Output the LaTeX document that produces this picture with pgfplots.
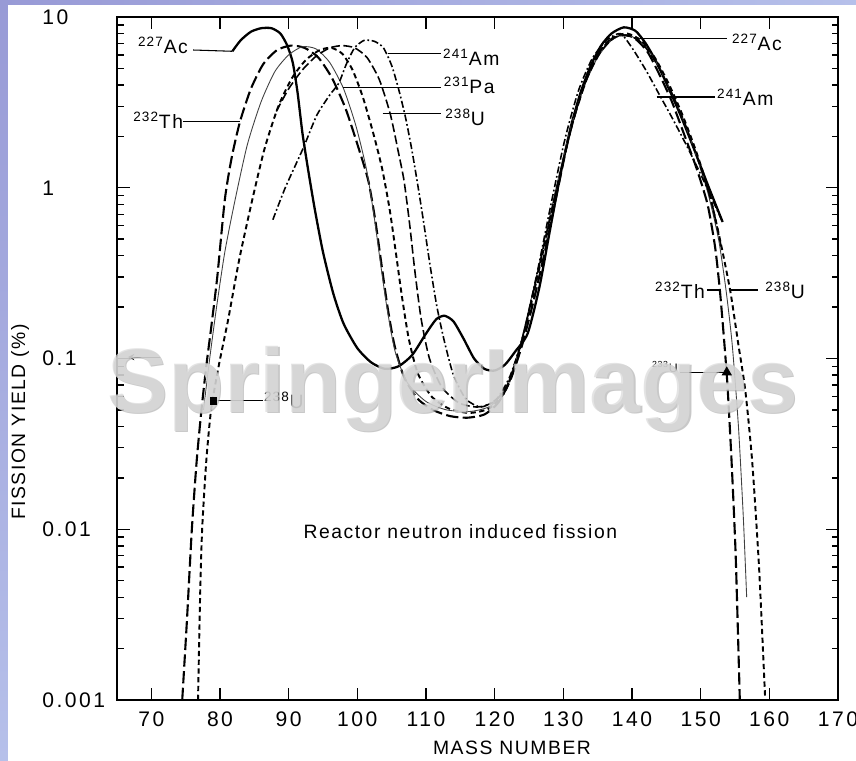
\documentclass[border=0pt]{standalone}
\usepackage{fontspec}
\setmainfont{Liberation Sans}
\newfontfamily\tkfont{Liberation Sans}[LetterSpace=12]
\newfontfamily\lbfont{Liberation Sans}[LetterSpace=8]
\usepackage{pgfplots}
\pgfplotsset{compat=1.18}
\definecolor{lavA}{RGB}{152,154,214}
\definecolor{lavB}{RGB}{182,192,234}
\newcommand{\lb}{\lbfont\fontsize{11}{13}\selectfont}
\newcommand{\sm}{\lbfont\fontsize{7}{8}\selectfont}
\begin{document}
\begin{tikzpicture}
\useasboundingbox (-2.34,-1.2) rectangle (14.78,14.0);
\fill[white] (-2.34,-1.2) rectangle (14.78,14.0);
\shade[top color=lavA, bottom color=lavB] (-2.34,-1.2) rectangle (-2.18,14.0);
\shade[left color=lavA, right color=lavB] (-2.34,13.9) rectangle (14.78,14.0);
\begin{axis}[
  at={(0,0)}, anchor=south west, scale only axis,
  width=14.42cm, height=13.66cm,
  xmin=65, xmax=170, ymin=0.001, ymax=10, ymode=log,
  xtick={70,80,...,170},
  ytick={0.001,0.01,0.1,1,10},
  yticklabels={0.001,0.01,0.1,1,10},
  tick align=inside,
  major tick length=0.25cm, minor tick length=0.13cm,
  axis line style={line width=1.4pt},
  every tick/.append style={black, line width=0.8pt},
  tick label style={font=\tkfont\fontsize{12}{14}\selectfont},
  /pgf/number format/assume math mode=true,
  yticklabel style={anchor=west, xshift=-1.5cm, inner sep=0pt},
  xticklabel style={yshift=-0.12cm},
  clip=false,
]
% 227Ac
\addplot[black, line width=1.3pt, smooth, tension=0.4] coordinates {
(81.8,6.3) (83,7.3) (84.5,8.2) (86,8.6) (87.5,8.6) (88.8,8.0) (89.8,6.8) (90.6,5.4)
(91.3,3.6) (92.0,2.1) (92.8,1.3) (93.8,0.75) (95,0.42) (96.5,0.24) (98,0.16) (100,0.115)
(102,0.095) (104,0.087) (106,0.09) (108,0.105) (110,0.14) (111.5,0.17) (112.7,0.178)
(114,0.165) (115.5,0.13) (117,0.1) (118.5,0.087) (120,0.085) (121.5,0.092) (123,0.11)
(124.8,0.14) (126.5,0.26) (128,0.55) (129.5,1.15) (131,2.2) (132.5,3.6) (134,5.2)
(135.5,6.8) (137,8.0) (138.8,8.7) (140.5,8.3) (142,7.0) (143.5,5.5) (145,4.1) (147,2.7)
(149,1.7) (151,1.05) (153.2,0.63)};
% 232Th
\addplot[black, line width=1.2pt, dash pattern=on 7pt off 2.5pt, smooth, tension=0.4] coordinates {
(74.5,0.001) (75.2,0.003) (75.9,0.01) (76.6,0.025) (77.3,0.05) (78.0,0.09) (78.7,0.15)
(79.6,0.3) (80.7,0.85) (81.7,1.5) (82.9,2.43) (84.5,3.8) (86.3,5.3) (88.3,6.4) (90.3,6.8)
(92.3,6.6) (94.3,5.8) (96.3,4.4) (98.3,2.9) (100.2,1.7) (101.6,1.1) (102.6,0.65)
(103.5,0.36) (104.4,0.2) (105.4,0.12) (106.8,0.078) (108.8,0.058) (111,0.05) (113.5,0.046)
(116,0.045) (118.5,0.047) (120.5,0.055) (122.3,0.075) (124,0.12) (125.7,0.22) (127.3,0.42)
(129,0.9) (130.7,1.9) (132.5,3.5) (134.3,5.4) (136.2,7.0) (138.2,7.8) (140.2,7.6)
(142.2,6.3) (144,4.6) (145.8,3.2) (147.6,2.05) (149.4,1.3) (151,0.8) (152.1,0.45)
(152.8,0.25) (153.4,0.13) (153.9,0.07) (154.5,0.025) (155.1,0.007) (155.7,0.001)};
% thin solid
\addplot[black!75, line width=0.5pt, smooth, tension=0.4] coordinates {
(77.6,0.05) (78.5,0.1) (79.5,0.2) (80.7,0.42) (82.2,0.85) (84,1.8) (86,3.2) (88,4.8)
(90,6.0) (92,6.7) (94,6.5) (96,5.4) (98,3.8) (99.8,2.3) (101.3,1.3) (102.4,0.7)
(103.3,0.38) (104.3,0.2) (105.5,0.11) (107.3,0.072) (110,0.056) (113,0.05) (116.5,0.049)
(119.5,0.053) (121.8,0.07) (123.7,0.12) (125.5,0.24) (127.3,0.5) (129.2,1.1) (131,2.2)
(133,3.9) (135,5.8) (137,7.3) (139,7.9) (141,7.3) (143,5.9) (145,4.2) (147,2.8) (149,1.7)
(151,0.95) (152.6,0.5) (153.7,0.25) (154.6,0.12) (155.5,0.04) (156.2,0.012) (156.7,0.004)};
% short dashes
\addplot[black, line width=1.1pt, dash pattern=on 3pt off 2pt, smooth, tension=0.4] coordinates {
(76.8,0.001) (77.1,0.004) (77.4,0.01) (78,0.025) (78.7,0.05) (79.8,0.09) (81.2,0.17)
(82.8,0.38) (84.7,0.85) (86.5,1.7) (88.5,3.0) (90.5,4.4) (92.5,5.6) (94.5,6.4) (96.2,6.6)
(97.8,6.1) (99.3,4.9) (100.8,3.4) (102.3,2.1) (103.6,1.3) (104.7,0.75) (105.6,0.42)
(106.5,0.23) (107.5,0.13) (108.8,0.082) (110.8,0.06) (113.3,0.051) (116.3,0.048)
(119.2,0.051) (121.5,0.064) (123.3,0.1) (125.2,0.2) (127.2,0.45) (129.2,1.05) (131.2,2.3)
(133.2,4.2) (135.2,6.2) (137.3,7.6) (139.3,8.0) (141.3,7.3) (143.3,5.8) (145.3,4.1)
(147.3,2.7) (149.3,1.65) (151.2,0.95) (152.8,0.5) (154.3,0.25) (155.5,0.12) (156.5,0.065)
(157.5,0.025) (158.5,0.006) (159.4,0.001)};
% long dashes
\addplot[black, line width=0.9pt, dash pattern=on 5pt off 2pt, smooth, tension=0.4] coordinates {
(88.2,2.8) (90,3.8) (92,4.9) (94,5.9) (96,6.6) (97.8,6.8) (99.6,6.6) (101.4,5.8)
(103.2,4.3) (104.8,2.7) (106,1.6) (106.8,1.1) (107.6,0.62) (108.4,0.32) (109.3,0.17)
(110.5,0.1) (112.3,0.068) (114.8,0.055) (117.5,0.052) (120,0.056) (122,0.072) (123.8,0.12)
(125.7,0.25) (127.6,0.55) (129.5,1.2) (131.5,2.5) (133.5,4.4) (135.5,6.3) (137.5,7.6)
(139.5,7.8) (141.5,7.0) (143.5,5.4) (145.5,3.8) (147.5,2.5) (149.5,1.5) (151.5,0.85)
(153,0.45)};
% 241Am
\addplot[black, line width=0.9pt, dash pattern=on 4pt off 1.5pt on 1pt off 1.5pt, smooth, tension=0.4] coordinates {
(87.7,0.65) (89.5,1.0) (92.1,1.7) (94.1,2.66) (96,3.5) (97.3,4.1) (98.4,5.3) (99.6,6.6)
(101,7.3) (102.5,7.2) (103.8,6.6) (105,5.2) (106,3.8) (107,2.6) (107.9,1.7) (108.7,1.1)
(109.6,0.65) (110.6,0.35) (111.6,0.2) (112.7,0.125) (114,0.08) (115.8,0.058) (118,0.052)
(120.3,0.058) (122.3,0.08) (124.2,0.14) (126.2,0.32) (128.2,0.8) (130.2,1.9) (132.2,3.7)
(134.2,5.7) (136.3,7.3) (138.3,8.0) (140,6.6) (142,4.9) (144,3.5) (146,2.5) (148,1.75)
(150,1.2) (153.2,0.63)};
% markers
\addplot[only marks, mark=triangle*, mark size=3pt, black] coordinates {(153.8,0.083)};
\addplot[only marks, mark=square*, mark size=1.8pt, black] coordinates {(79.0,0.0565)};
% leader lines
\draw[line width=0.6pt] (axis cs:76.1,6.41) -- (axis cs:81.8,6.3);
\draw[line width=0.6pt] (axis cs:74.6,2.43) -- (axis cs:82.9,2.43);
\draw[line width=0.6pt] (axis cs:104.5,6.15) -- (axis cs:112.2,6.15);
\draw[line width=0.6pt] (axis cs:97.9,3.89) -- (axis cs:112.2,3.89);
\draw[line width=0.6pt] (axis cs:103.7,2.71) -- (axis cs:112.2,2.71);
\draw[line width=0.6pt] (axis cs:141.2,7.53) -- (axis cs:153.9,7.53);
\draw[line width=0.6pt] (axis cs:143.6,3.4) -- (axis cs:152.1,3.4);
\draw[line width=0.6pt] (axis cs:150.9,0.252) -- (axis cs:152.9,0.252);
\draw[line width=0.6pt] (axis cs:154.4,0.252) -- (axis cs:158.3,0.252);
\draw[line width=0.6pt] (axis cs:79.0,0.0565) -- (axis cs:86.3,0.0565);
\draw[line width=0.6pt] (axis cs:147,0.083) -- (axis cs:153.5,0.083);
\draw[line width=0.6pt, -stealth] (axis cs:71.3,0.102) -- (axis cs:66.6,0.102);
% labels
\node[font=\lb] at (axis cs:71.7,6.85) {\textsuperscript{227}Ac};
\node[font=\lb] at (axis cs:71.0,2.49) {\textsuperscript{232}Th};
\node[font=\lb] at (axis cs:116.6,5.83) {\textsuperscript{241}Am};
\node[font=\lb] at (axis cs:116.3,4.0) {\textsuperscript{231}Pa};
\node[font=\lb] at (axis cs:115.7,2.6) {\textsuperscript{238}U};
\node[font=\lb] at (axis cs:158.2,7.14) {\textsuperscript{227}Ac};
\node[font=\lb] at (axis cs:156.5,3.4) {\textsuperscript{241}Am};
\node[font=\lb] at (axis cs:147.0,0.252) {\textsuperscript{232}Th};
\node[font=\lb] at (axis cs:162.3,0.252) {\textsuperscript{238}U};
\node[font=\lb] at (axis cs:89.3,0.057) {\textsuperscript{238}U};
\node[font=\sm] at (axis cs:144.8,0.089) {\textsuperscript{233}U};
\node[font=\lbfont\fontsize{11}{13}\selectfont] at (axis cs:115.0,0.00964) {Reactor neutron induced fission};
% watermark
\node[anchor=base, text=gray!65, opacity=0.65, font=\fontsize{52}{52}\selectfont\bfseries] at (axis cs:114.1,0.0476) {SpringerImages};
\node[anchor=base, text=gray!28, opacity=0.75, font=\fontsize{52}{52}\selectfont\bfseries] at (axis cs:113.9,0.0486) {SpringerImages};
\end{axis}
\node[font=\lbfont\fontsize{11}{13}\selectfont] at (7.9,-0.96) {MASS NUMBER};
\node[font=\lbfont\fontsize{11}{13}\selectfont, rotate=90] at (-1.94,5.56) {FISSION YIELD (\%)};
\end{tikzpicture}
\end{document}
